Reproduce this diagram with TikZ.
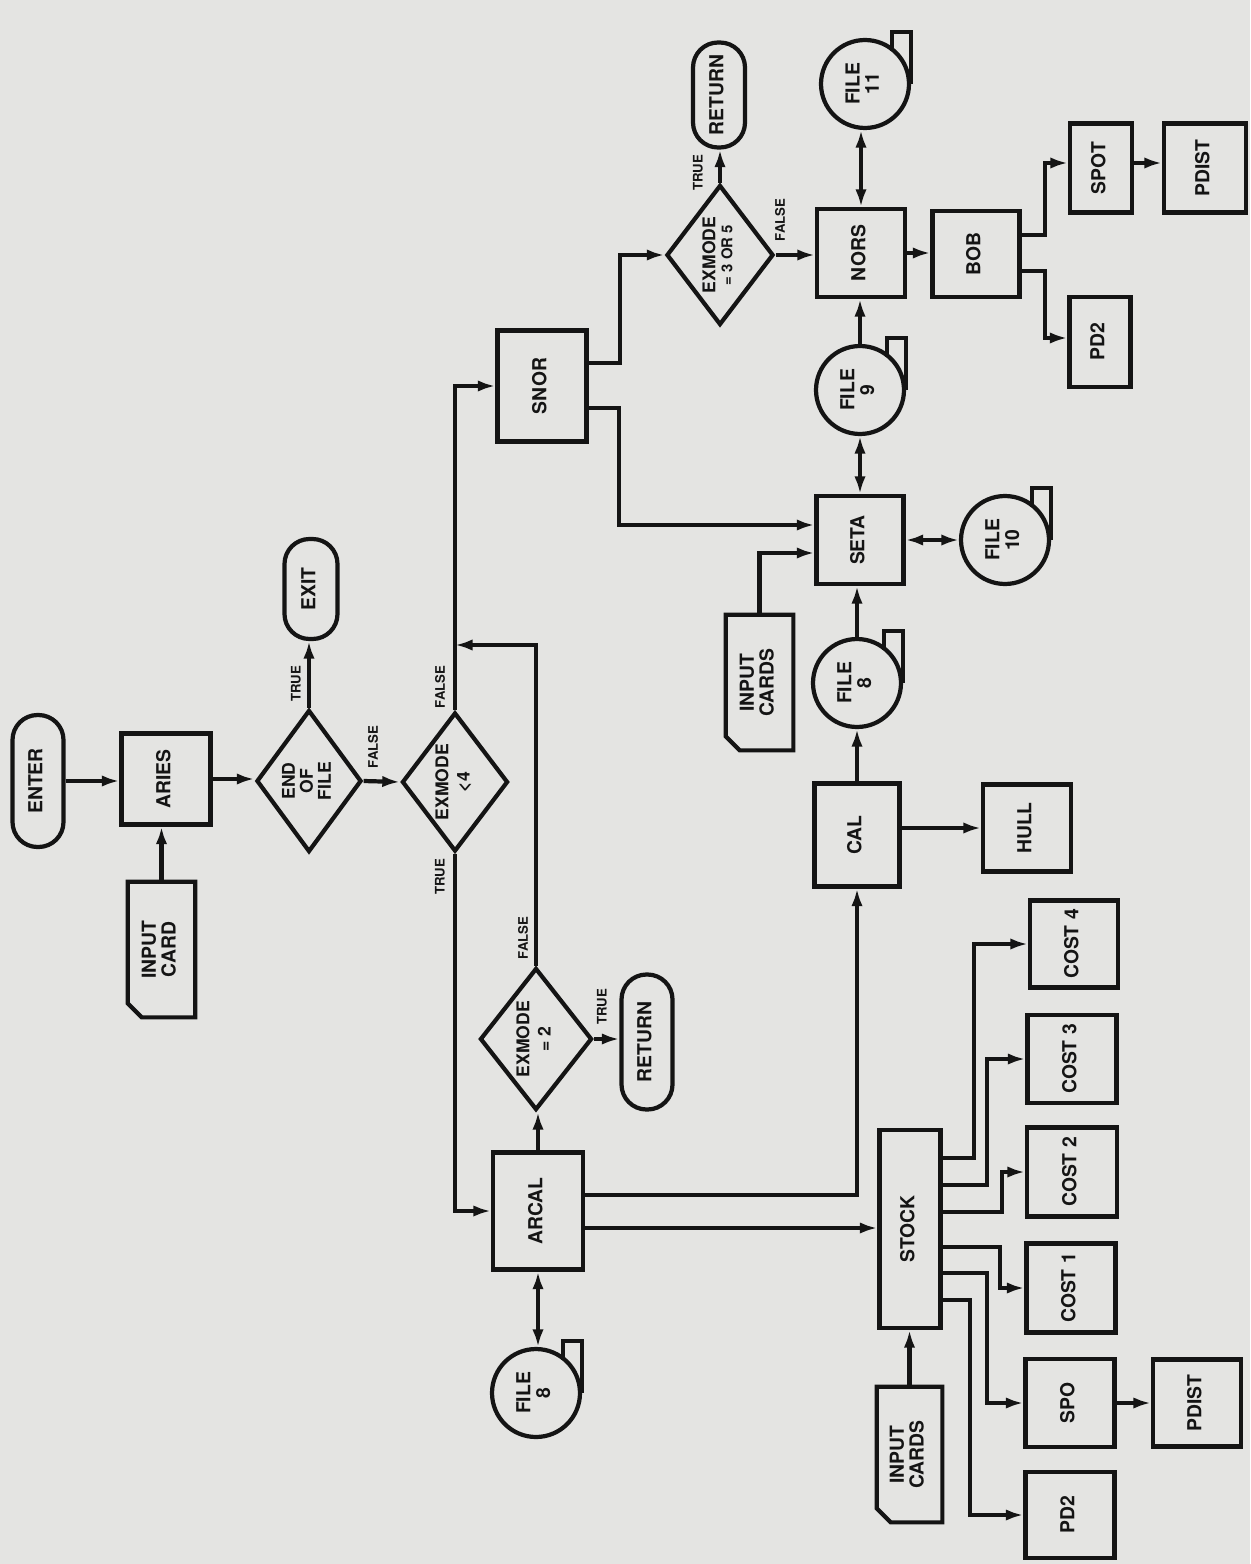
\documentclass[tikz,border=0pt]{standalone}
\usepackage{fontspec}
\setmainfont{TeX Gyre Heros}
\usetikzlibrary{shapes.geometric,arrows.meta,calc}
\definecolor{paper}{RGB}{228,228,226}
\definecolor{ink}{RGB}{20,20,20}
\newcommand{\rt}[1]{\rotatebox{90}{\begin{tabular}{@{}c@{}}#1\end{tabular}}}
\newcommand{\mainfs}{\fontsize{11}{11.5}\selectfont\bfseries}
\newcommand{\diafs}{\fontsize{10}{10.5}\selectfont\bfseries}
\newcommand{\smallln}{\fontsize{8.5}{9}\selectfont}
\newcommand{\lblfs}{\fontsize{7.5}{8}\selectfont\bfseries}
\renewcommand{\arraystretch}{0.92}
\newcommand{\tapetail}[1]{\draw[ln] (#1.east) -- ++(0,-52) -- ++(-19,0) -- ++(0,19);}
\begin{document}
\begin{tikzpicture}[x=0.02cm, y=-0.02cm,
  ln/.style={draw=ink, line width=2.4pt},
  base/.style={ln, font=\mainfs, inner sep=0pt, text=ink},
  sz/.style 2 args={minimum width=#1*0.02cm, minimum height=#2*0.02cm},
  box/.style={base, rectangle},
  term/.style={base, rectangle, rounded corners=0.5cm},
  dia/.style={base, diamond, aspect=0.75, font=\diafs},
  tape/.style={base, circle, minimum size=1.76cm},
  cardn/.style={font=\mainfs, inner sep=0pt, text=ink},
  lbl/.style={font=\lblfs, inner sep=0pt, text=ink},
  arr/.style={ln, -{Latex[length=10pt,width=6.5pt]}},
  darr/.style={ln, {Latex[length=10pt,width=6.5pt]}-{Latex[length=10pt,width=6.5pt]}}]
\fill[paper] (0,0) rectangle (1250,1564);
\useasboundingbox (0,0) rectangle (1250,1564);

% ---------- left part ----------
\node[term, sz={51}{132}] (enter) at (38,781) {\rt{ENTER}};
\node[box, sz={89}{91}] (aries) at (166,779) {\rt{ARIES}};
\node[cardn, sz={67}{135}] (ic1) at (161.5,949.5) {\rt{INPUT\\CARD}};
\draw[ln] (ic1.north west) -- (ic1.north east) -- (ic1.south east) -- ($(ic1.south west)+(14,0)$) -- ($(ic1.south west)+(0,-14)$) -- cycle;
\node[dia, sz={105}{142}] (eof) at (309,781) {\rt{END\\OF\\FILE}};
\node[term, sz={53}{100}] (exit) at (311,589) {\rt{EXIT}};
\node[dia, sz={106}{139}] (ex4) at (455,782) {\rt{EXMODE\\[2pt]<4}};
\node[box, sz={89}{111}] (snor) at (542,386) {\rt{SNOR}};
\node[dia, sz={112}{142}] (ex2) at (536,1039) {\rt{EXMODE\\[2pt]= 2}};
\node[term, sz={51}{135}] (ret1) at (647,1042) {\rt{RETURN}};
\node[box, sz={90}{117}] (arcal) at (538,1211) {\rt{ARCAL}};
\node[tape] (f8a) at (536,1393) {\rt{FILE\\8}};
\tapetail{f8a}

% ---------- middle part ----------
\node[dia, sz={107}{140}] (ex35) at (720,255) {\rt{EXMODE\\{\smallln = 3 OR 5}}};
\node[term, sz={52}{105}] (ret2) at (719,95) {\rt{RETURN}};
\node[box, sz={88}{88}] (nors) at (861,253) {\rt{NORS}};
\node[tape] (f11) at (865,84) {\rt{FILE\\11}};
\tapetail{f11}
\node[tape] (f9) at (860,390) {\rt{FILE\\9}};
\tapetail{f9}
\node[box, sz={87}{88}] (seta) at (860,540) {\rt{SETA}};
\node[tape] (f10) at (1005,540) {\rt{FILE\\10}};
\tapetail{f10}
\node[cardn, sz={67}{135}] (ic2) at (759.5,682.5) {\rt{INPUT\\CARDS}};
\draw[ln] (ic2.north west) -- (ic2.north east) -- (ic2.south east) -- ($(ic2.south west)+(14,0)$) -- ($(ic2.south west)+(0,-14)$) -- cycle;
\node[tape] (f8b) at (857,683) {\rt{FILE\\8}};
\tapetail{f8b}
\node[box, sz={85}{103}] (cal) at (857,835) {\rt{CAL}};
\node[box, sz={88}{87}] (hull) at (1027,828) {\rt{HULL}};

% ---------- right top ----------
\node[box, sz={87}{86}] (bob) at (976,254) {\rt{BOB}};
\node[box, sz={62}{89}] (spot) at (1101,168) {\rt{SPOT}};
\node[box, sz={82}{89}] (pdist1) at (1205,168) {\rt{PDIST}};
\node[box, sz={61}{90}] (pd2a) at (1100,342) {\rt{PD2}};

% ---------- right bottom ----------
\node[box, sz={61}{198}] (stock) at (910,1229) {\rt{STOCK}};
\node[cardn, sz={65}{135}] (ic3) at (909.5,1454.5) {\rt{INPUT\\CARDS}};
\draw[ln] (ic3.north west) -- (ic3.north east) -- (ic3.south east) -- ($(ic3.south west)+(14,0)$) -- ($(ic3.south west)+(0,-14)$) -- cycle;
\node[box, sz={88}{87}] (cost4) at (1074,944) {\rt{COST 4}};
\node[box, sz={89}{88}] (cost3) at (1072,1059) {\rt{COST 3}};
\node[box, sz={90}{89}] (cost2) at (1072,1172) {\rt{COST 2}};
\node[box, sz={89}{89}] (cost1) at (1071,1288) {\rt{COST 1}};
\node[box, sz={89}{88}] (spo) at (1070,1403) {\rt{SPO}};
\node[box, sz={88}{87}] (pdist2) at (1197,1403) {\rt{PDIST}};
\node[box, sz={89}{86}] (pd2b) at (1070,1515) {\rt{PD2}};

% ---------- labels ----------
\node[lbl] (l1) at (296,684) {\rotatebox{90}{TRUE}};
\node[lbl] (l2) at (373,747) {\rotatebox{90}{FALSE}};
\node[lbl] (l3) at (440,687) {\rotatebox{90}{FALSE}};
\node[lbl] (l4) at (440,877) {\rotatebox{90}{TRUE}};
\node[lbl] (l5) at (523,938) {\rotatebox{90}{FALSE}};
\node[lbl] (l6) at (602,1007) {\rotatebox{90}{TRUE}};
\node[lbl] (l7) at (698,173) {\rotatebox{90}{TRUE}};
\node[lbl] (l8) at (780,220) {\rotatebox{90}{FALSE}};

% ---------- connectors ----------
\coordinate (j1) at (455,645);
\draw[arr] (enter.east) -- (enter.east -| aries.west);
\draw[arr] (ic1.north) -- (ic1.north |- aries.south);
\draw[arr] (aries.east) -- (aries.east -| eof.west);
\draw[arr] (eof.north) -- (eof.north |- exit.south);
\draw[arr] (eof.east) -- (ex4.west);
\draw[arr] (ex4.north) |- (snor.west);
\draw[arr] (ex2.north) |- (j1);
\draw[arr] (ex4.south) |- (arcal.west);
\draw[arr] (arcal.north) -- (arcal.north |- ex2.south);
\draw[arr] (ex2.east) -- (ex2.east -| ret1.west);
\draw[darr] (arcal.south) -- (arcal.south |- f8a.north);
\draw[arr] ($(arcal.east)+(0,-16)$) -| (cal.south);
\coordinate (a2) at ($(arcal.east)+(0,17)$);
\draw[arr] (a2) -- (a2 -| stock.west);
\draw[arr] (cal.north) -- (f8b.south);
\draw[arr] (cal.east |- hull.west) -- (hull.west);
\draw[arr] (f8b.north) -- (f8b.north |- seta.south);
\draw[arr] (ic2.north) |- ($(seta.west)+(0,13)$);
\draw[arr] ($(snor.east)+(0,22)$) -- ++(30,0) |- ($(seta.west)+(0,-15)$);
\draw[arr] ($(snor.east)+(0,-23)$) -- ++(31,0) |- (ex35.west);
\draw[arr] (ex35.north) -- (ex35.north |- ret2.south);
\draw[arr] (ex35.east) -- (ex35.east -| nors.west);
\draw[darr] (seta.north) -- (seta.north |- f9.south);
\draw[arr] (f9.north) -- (f9.north |- nors.south);
\draw[darr] (nors.north) -- (nors.north |- f11.south);
\draw[darr] (seta.east) -- (f10.west);
\draw[arr] (nors.east) -- (nors.east -| bob.west);
\draw[arr] ($(bob.east)+(0,-19)$) -- ++(23,0) |- ($(spot.west)+(0,-5)$);
\draw[arr] ($(spot.east)+(0,-5)$) -- ($(pdist1.west)+(0,-5)$);
\draw[arr] ($(bob.east)+(0,17)$) -- ++(23,0) |- ($(pd2a.west)+(0,-4)$);
\draw[arr] (ic3.north) -- (ic3.north |- stock.south);
\draw[arr] ($(stock.east)+(0,-71)$) -- ++(31,0) |- (cost4.west);
\draw[arr] ($(stock.east)+(0,-44)$) -- ++(44,0) |- (cost3.west);
\draw[arr] ($(stock.east)+(0,-17)$) -- ++(59,0) |- (cost2.west);
\draw[arr] ($(stock.east)+(0,18)$) -- ++(57,0) |- (cost1.west);
\draw[arr] ($(stock.east)+(0,44)$) -- ++(44,0) |- (spo.west);
\draw[arr] ($(stock.east)+(0,71)$) -- ++(27,0) |- (pd2b.west);
\draw[arr] (spo.east) -- (pdist2.west);
\end{tikzpicture}
\end{document}
